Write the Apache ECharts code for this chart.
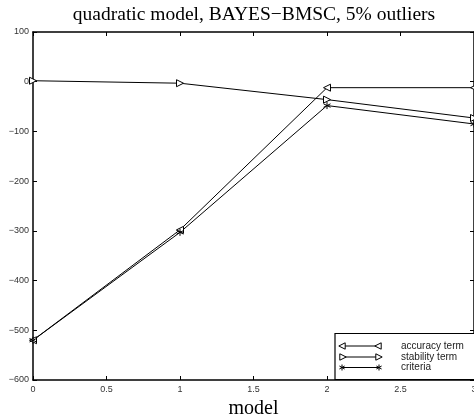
<!DOCTYPE html>
<html>
<head>
<meta charset="utf-8">
<script src="https://cdn.jsdelivr.net/npm/echarts@6/dist/echarts.min.js"></script>
<style>
  html, body { margin: 0; padding: 0; background: #fff; }
  #chart { width: 474px; height: 416px; }
</style>
</head>
<body>
<div id="chart"></div>
<script>
// values
const models = [0, 1, 2, 3];
const accuracyTerm = [-520, -298, -12, -12];
const stabilityTerm = [2, -3, -36, -73];
const criteria = [-520, -303, -48, -85];
const seriesNames = ["accuracy term", "stability term", "criteria"];

const starPath = "path://M0,-1L0,1M-0.87,-0.5L0.87,0.5M-0.87,0.5L0.87,-0.5";
const minus = (v) => String(v).replace("-", "\u2212");

const chart = echarts.init(document.getElementById("chart"));

function lineSeries(name, values, symbol, rotate, fill) {
  return {
    name: name,
    type: "line",
    data: models.map((m, i) => [m, values[i]]),
    symbol: symbol,
    symbolRotate: rotate,
    symbolSize: 7,
    showAllSymbol: true,
    lineStyle: { color: "#000", width: 1 },
    itemStyle: { color: fill, borderColor: "#000", borderWidth: 1 },
    emphasis: { disabled: true },
    animation: false,
  };
}

// legend drawn by hand: line with a marker at both ends
const legendRows = [346, 357, 367.5];
const legendGraphics = [
  {
    type: "rect",
    shape: { x: 335, y: 333.5, width: 150, height: 46 },
    style: { fill: "#fff", stroke: "#000", lineWidth: 1.2 },
    z: 10,
  },
];
function tri(cx, cy, dir) {
  const s = 3.2;
  const pts = dir < 0
    ? [[cx - s, cy], [cx + s, cy - s], [cx + s, cy + s]]
    : [[cx + s, cy], [cx - s, cy - s], [cx - s, cy + s]];
  return { type: "polygon", shape: { points: pts }, style: { fill: "#fff", stroke: "#000", lineWidth: 1 }, z: 12 };
}
function star(cx, cy) {
  const r = 3;
  const seg = (x1, y1, x2, y2) => ({ type: "line", shape: { x1, y1, x2, y2 }, style: { stroke: "#000", lineWidth: 1 }, z: 12 });
  return {
    type: "group",
    z: 12,
    children: [
      seg(cx, cy - r, cx, cy + r),
      seg(cx - r * 0.87, cy - r * 0.5, cx + r * 0.87, cy + r * 0.5),
      seg(cx - r * 0.87, cy + r * 0.5, cx + r * 0.87, cy - r * 0.5),
    ],
  };
}
legendRows.forEach((y, i) => {
  legendGraphics.push({
    type: "line",
    shape: { x1: 341, y1: y, x2: 379, y2: y },
    style: { stroke: "#000", lineWidth: 1 },
    z: 11,
  });
  if (i === 0) {
    legendGraphics.push(tri(342, y, -1), tri(378, y, -1));
  } else if (i === 1) {
    legendGraphics.push(tri(343, y, 1), tri(379, y, 1));
  } else {
    legendGraphics.push(star(342, y), star(379, y));
  }
  legendGraphics.push({
    type: "text",
    x: 401,
    y: y,
    style: { text: seriesNames[i], font: "10px 'Liberation Sans', Arial, sans-serif", fill: "#222", verticalAlign: "middle" },
    z: 12,
  });
});

const labelFont = { fontFamily: "'Liberation Sans', Arial, sans-serif", fontSize: 9, color: "#333" };
const serif = "'Liberation Serif', 'Times New Roman', serif";

chart.setOption({
  animation: false,
  title: {
    text: "quadratic model, BAYES\u2212BMSC, 5% outliers",
    left: 249,
    top: 0,
    textAlign: "center",
    textStyle: { fontFamily: serif, fontSize: 19.5, fontWeight: "normal", color: "#000" },
  },
  grid: { left: 33, top: 32, right: 0, bottom: 36, outerBoundsMode: "none" },
  xAxis: [
    {
      type: "value",
      min: 0,
      max: 3,
      interval: 0.5,
      position: "bottom",
      name: "model",
      nameLocation: "middle",
      nameGap: 15,
      nameTextStyle: { fontFamily: serif, fontSize: 20, color: "#000" },
      axisLine: { onZero: false, lineStyle: { color: "#000", width: 1.5 } },
      axisTick: { inside: true, length: 4, lineStyle: { color: "#000" } },
      axisLabel: Object.assign({ margin: 5, showMaxLabel: true }, labelFont),
      splitLine: { show: false },
    },
    {
      type: "value",
      min: 0,
      max: 3,
      interval: 0.5,
      position: "top",
      axisLine: { onZero: false, lineStyle: { color: "#000", width: 1.5 } },
      axisTick: { inside: true, length: 4, lineStyle: { color: "#000" } },
      axisLabel: { show: false },
      splitLine: { show: false },
    },
  ],
  yAxis: [
    {
      type: "value",
      min: -600,
      max: 100,
      interval: 100,
      position: "left",
      axisLine: { onZero: false, lineStyle: { color: "#000", width: 1.5 } },
      axisTick: { inside: true, length: 4, lineStyle: { color: "#000" } },
      axisLabel: Object.assign({ margin: 4, formatter: minus }, labelFont),
      splitLine: { show: false },
    },
    {
      type: "value",
      min: -600,
      max: 100,
      interval: 100,
      position: "right",
      axisLine: { onZero: false, lineStyle: { color: "#000", width: 1.5 } },
      axisTick: { inside: true, length: 4, lineStyle: { color: "#000" } },
      axisLabel: { show: false },
      splitLine: { show: false },
    },
  ],
  series: [
    lineSeries(seriesNames[0], accuracyTerm, "triangle", 90, "#fff"),
    lineSeries(seriesNames[1], stabilityTerm, "triangle", -90, "#fff"),
    lineSeries(seriesNames[2], criteria, starPath, 0, "#000"),
  ],
  graphic: legendGraphics,
});
</script>
</body>
</html>
